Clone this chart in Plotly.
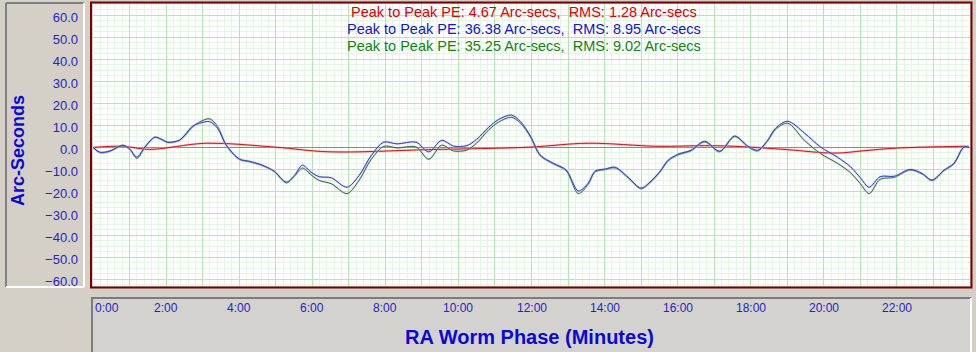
import plotly.graph_objects as go

# ---------------- data ----------------
minutes = [0.00, 0.19, 0.46, 0.82, 1.01, 1.20, 1.42, 1.69, 1.88, 2.05, 2.37, 2.73, 2.92, 3.19, 3.41,
           3.65, 4.01, 4.28, 4.64, 4.96, 5.29, 5.51, 5.73, 5.97, 6.19, 6.52, 6.95, 7.28, 7.61, 7.96,
           8.32, 8.84, 9.19, 9.54, 9.87, 10.23, 10.50, 10.83, 11.10, 11.45, 11.70, 11.97, 12.24, 12.60,
           12.95, 13.28, 13.55, 13.74, 14.02, 14.29, 14.64, 15.00, 15.24, 15.52, 15.74, 16.01, 16.36,
           16.74, 17.15, 17.56, 17.92, 18.19, 18.46, 18.68, 19.01, 19.47, 19.91, 20.37, 20.73, 21.00,
           21.24, 21.54, 21.93, 22.36, 22.69, 22.96, 23.29, 23.56, 23.83, 23.97]

blue_pe = [0, -2.2, -1.6, 1.0, -0.8, -4.4, 0.2, 4.7, 3.7, 2.4, 3.4, 9.7, 11.0, 11.7, 8.7,
           1.0, -5.3, -6.3, -8.1, -10.8, -15.8, -12.8, -8.1, -11.3, -13.3, -13.8, -18.1, -12.8, -3.8, 2.4,
           1.6, 2.4, -2.0, 3.2, 0.6, 0.8, 3.7, 9.2, 12.7, 14.7, 11.7, 5.2, -3.5, -7.2,
           -10.3, -19.8, -16.3, -10.8, -9.8, -9.0, -13.5, -18.5, -15.8, -10.8, -5.8, -3.1, -1.3,
           2.8, -1.7, 5.2, 0.6, -1.3, 3.2, 8.7, 11.9, 6.5, 0.2, -4.4, -8.8, -13.8,
           -18.1, -13.3, -13.1, -10.0, -11.8, -14.8, -10.3, -7.2, 0.2, 0.0]

green_pe = [0, -2.4, -1.8, 0.8, -1.0, -5.0, 0.0, 4.5, 3.5, 2.2, 3.2, 9.3, 11.6, 13.0, 9.5,
            0.8, -5.5, -6.5, -8.3, -11.0, -16.1, -13.2, -9.4, -12.5, -15.0, -16.5, -21.0, -15.0, -5.5, 0.5,
            -0.2, 0.2, -5.4, 1.0, -1.6, -1.2, 2.0, 8.0, 11.5, 13.7, 11.0, 4.8, -3.8, -7.5,
            -10.6, -21.0, -16.8, -11.1, -10.1, -9.3, -13.8, -18.8, -16.1, -11.1, -6.1, -3.4, -1.6,
            2.5, -2.0, 4.9, 0.3, -1.6, 2.9, 8.2, 11.0, 3.2, -2.8, -7.2, -11.5, -16.5,
            -21.0, -14.5, -13.6, -10.3, -12.1, -15.1, -10.6, -7.5, 0.0, 0.0]

red_minutes = [0.0, 0.82, 1.55, 3.1, 5.0, 6.46, 9.19, 11.92, 13.55, 15.46, 16.74, 17.56, 19.0,
               20.29, 21.1, 22.0, 23.84, 23.97]
red_pe = [0.0, 0.5, -0.9, 1.9, 0.1, -2.0, -1.0, 0.1, 1.9, 0.5, 0.8, 0.5, -1.0,
          -2.6, -1.5, -0.3, 0.5, 0.5]

y_ticks = [-60, -50, -40, -30, -20, -10, 0, 10, 20, 30, 40, 50, 60]
x_tick_vals = [0, 2, 4, 6, 8, 10, 12, 14, 16, 18, 20, 22]
x_tick_text = ["0:00", "2:00", "4:00", "6:00", "8:00", "10:00", "12:00", "14:00", "16:00",
               "18:00", "20:00", "22:00"]

stats_lines = [
    ("Peak to Peak PE: 4.67 Arc-secs,&nbsp; RMS: 1.28 Arc-secs", "#e00000"),
    ("Peak to Peak PE: 36.38 Arc-secs,&nbsp; RMS: 8.95 Arc-secs", "#1414d2"),
    ("Peak to Peak PE: 35.25 Arc-secs,&nbsp; RMS: 9.02 Arc-secs", "#148214"),
]

# ---------------- geometry helpers (pixel -> paper) ----------------
W, H = 976, 352
ML, MR, MT, MB = 93, 6, 4, 66
PW = W - ML - MR
PH = H - MT - MB


def px(x):
    return (x - ML) / PW


def py(y):
    return (H - MB - y) / PH


FONT = "Liberation Sans, Arial, sans-serif"
TICK_BLUE = "#2424c4"
TITLE_BLUE = "#0a0ad2"
BG = "#d4d0c8"

fig = go.Figure()

# red model curve (pink halo + thin red)
fig.add_trace(go.Scatter(x=red_minutes, y=red_pe, mode="lines", hoverinfo="skip",
                         line=dict(color="rgba(255,150,150,0.5)", width=2.5, shape="spline", smoothing=1.0)))
fig.add_trace(go.Scatter(x=red_minutes, y=red_pe, mode="lines",
                         line=dict(color="#d01010", width=1, shape="spline", smoothing=1.0)))
# green curve
fig.add_trace(go.Scatter(x=minutes, y=green_pe, mode="lines", hoverinfo="skip",
                         line=dict(color="rgba(170,200,180,0.45)", width=2.2, shape="spline", smoothing=0.9)))
fig.add_trace(go.Scatter(x=minutes, y=green_pe, mode="lines",
                         line=dict(color="#3a6450", width=1, shape="spline", smoothing=0.9)))
# blue curve
fig.add_trace(go.Scatter(x=minutes, y=blue_pe, mode="lines", hoverinfo="skip",
                         line=dict(color="rgba(170,180,240,0.45)", width=2.2, shape="spline", smoothing=0.9)))
fig.add_trace(go.Scatter(x=minutes, y=blue_pe, mode="lines",
                         line=dict(color="#2a3ccc", width=1, shape="spline", smoothing=0.9)))

shapes = []
# left panel
shapes.append(dict(type="rect", xref="paper", yref="paper", layer="below",
                   x0=px(6), x1=px(84), y0=py(287), y1=py(3), fillcolor=BG, line=dict(width=0)))
shapes.append(dict(type="line", xref="paper", yref="paper", layer="below",
                   x0=px(6), x1=px(84), y0=py(3), y1=py(3), line=dict(color="#808080", width=2)))
shapes.append(dict(type="line", xref="paper", yref="paper", layer="below",
                   x0=px(6), x1=px(6), y0=py(3), y1=py(287), line=dict(color="#808080", width=2)))
shapes.append(dict(type="line", xref="paper", yref="paper", layer="below",
                   x0=px(84), x1=px(84), y0=py(3), y1=py(287), line=dict(color="#ffffff", width=2)))
shapes.append(dict(type="line", xref="paper", yref="paper", layer="below",
                   x0=px(6), x1=px(84), y0=py(287), y1=py(287), line=dict(color="#ffffff", width=2)))
# bottom panel
shapes.append(dict(type="rect", xref="paper", yref="paper", layer="below",
                   x0=px(91), x1=px(971), y0=py(353), y1=py(297), fillcolor="#d3d2cf", line=dict(width=0)))
shapes.append(dict(type="line", xref="paper", yref="paper", layer="below",
                   x0=px(91), x1=px(971), y0=py(298), y1=py(298), line=dict(color="#7c7c7c", width=2)))
shapes.append(dict(type="line", xref="paper", yref="paper", layer="below",
                   x0=px(92), x1=px(92), y0=py(298), y1=py(353), line=dict(color="#7c7c7c", width=2)))
shapes.append(dict(type="line", xref="paper", yref="paper", layer="below",
                   x0=px(971), x1=px(971), y0=py(298), y1=py(353), line=dict(color="#ffffff", width=2)))
# plot border
shapes.append(dict(type="rect", xref="paper", yref="paper", layer="above",
                   x0=px(91), x1=px(971.5), y0=py(287.5), y1=py(2.5),
                   line=dict(color="#780000", width=2)))

annotations = []
# one multi-line text; base size sets a compact line spacing that still avoids overlap
stats_text = "<br>".join(
    f"<span style='color:{col};font-size:14.5px'>{txt}</span>" for txt, col in stats_lines)
annotations.append(dict(xref="paper", yref="paper", x=px(524), y=py(29), text=stats_text,
                        showarrow=False, xanchor="center", yanchor="middle", align="center",
                        font=dict(family=FONT, size=13.2, color=stats_lines[0][1])))
for v, t in zip(x_tick_vals, x_tick_text):
    annotations.append(dict(xref="x", yref="paper", x=v, y=py(308), text=t, showarrow=False,
                            xanchor="left" if v == 0 else "center",
                            yanchor="middle", font=dict(family=FONT, size=12, color=TICK_BLUE)))
annotations.append(dict(xref="paper", yref="paper", x=px(18), y=py(151), text="<b>Arc-Seconds</b>",
                        textangle=-90, showarrow=False, xanchor="center", yanchor="middle",
                        font=dict(family=FONT, size=18, color=TITLE_BLUE)))
annotations.append(dict(xref="paper", yref="paper", x=px(529), y=py(337),
                        text="<b>RA Worm Phase (Minutes)</b>", showarrow=False,
                        xanchor="center", yanchor="middle",
                        font=dict(family=FONT, size=20, color=TITLE_BLUE)))

fig.update_layout(
    width=W, height=H,
    margin=dict(l=ML, r=MR, t=MT, b=MB, pad=0),
    paper_bgcolor=BG, plot_bgcolor="#ffffff",
    showlegend=False,
    shapes=shapes, annotations=annotations,
    font=dict(family=FONT),
    xaxis=dict(range=[0, 24], tick0=0, dtick=1, showgrid=True, gridcolor="#b4e6b4", gridwidth=1,
               minor=dict(dtick=0.2, showgrid=True, gridcolor="#e2f6e2", gridwidth=1),
               showticklabels=False, ticks="", zeroline=False, showline=False, fixedrange=True),
    yaxis=dict(range=[-63, 65.2], tickvals=y_ticks, tickformat=".1f", showgrid=True,
               gridcolor="#b4e6b4", gridwidth=1,
               minor=dict(dtick=2.5, showgrid=True, gridcolor="#e2f6e2", gridwidth=1),
               zeroline=True, zerolinecolor="#8a8a8a", zerolinewidth=1,
               ticks="", ticklabelstandoff=14, ticklabelshift=2,
               tickfont=dict(family=FONT, size=13, color=TICK_BLUE),
               showline=False, fixedrange=True),
)

fig.write_html("out.html", config={"displayModeBar": False})
